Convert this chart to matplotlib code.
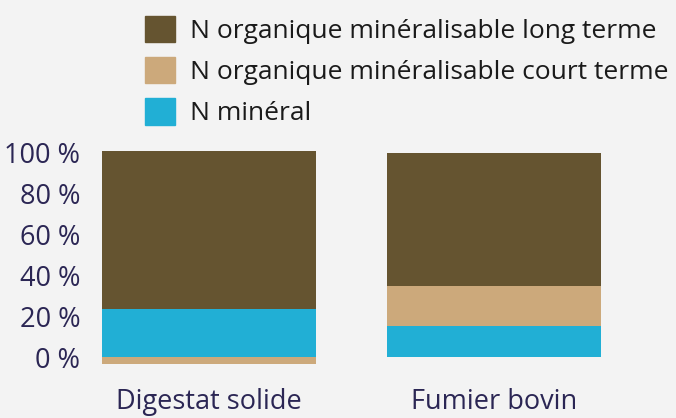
import numpy as np
import matplotlib.pyplot as plt
from matplotlib.patches import Patch

plt.rcParams['font.family'] = ['Open Sans', 'DejaVu Sans']

categories = ["Digestat solide", "Fumier bovin"]
series = ["N minéral", "N organique minéralisable court terme", "N organique minéralisable long terme"]
n_mineral = [23.5, 15.0]
n_court = [-3.5, 20.0]
n_long = [77.5, 65.0]
colors = ["#21AFD5", "#CCA97B", "#655430"]

values = np.array([n_mineral, n_court, n_long])
bg = "#F3F3F3"
axis_col = "#2B2654"

fig = plt.figure(figsize=(6.76, 4.18), dpi=100, facecolor=bg)
ax = fig.add_axes([90 / 676, 0.1215, (636.5 - 90) / 676, 0.6584 - 0.1215])
ax.set_facecolor(bg)

x = np.arange(len(categories))
pos_base = np.zeros(len(categories))
neg_base = np.zeros(len(categories))
for vals, name, col in zip(values, series, colors):
    bottom = np.where(vals >= 0, pos_base, neg_base)
    ax.bar(x, vals, width=0.75, bottom=bottom, color=col, label=name)
    pos_base += np.where(vals >= 0, vals, 0)
    neg_base += np.where(vals < 0, vals, 0)

ax.set_xlim(-(209 - 90) / 285, 1.5)
ax.set_ylim(-5, 105)
ax.set_yticks(np.arange(0, 101, 20))
ax.set_yticklabels([f"{v} %" for v in range(0, 101, 20)])
ax.set_xticks(x)
ax.set_xticklabels(categories)
ax.tick_params(axis='y', length=0, pad=7, labelsize=19.5, labelcolor=axis_col)
ax.tick_params(axis='x', length=0, pad=15, labelsize=19.5, labelcolor=axis_col)
for s in ax.spines.values():
    s.set_visible(False)

handles = [Patch(color=c) for c in colors][::-1]
fig.legend(handles, series[::-1], loc='upper left', bbox_to_anchor=(137 / 676, 1 - 8 / 418),
           frameon=False, fontsize=19, handlelength=1.15, handleheight=1.15,
           handletextpad=0.55, labelspacing=0.5, borderaxespad=0, borderpad=0.3,
           labelcolor="#1A1A1A")

fig.savefig("out.png", dpi=100, facecolor=bg)
